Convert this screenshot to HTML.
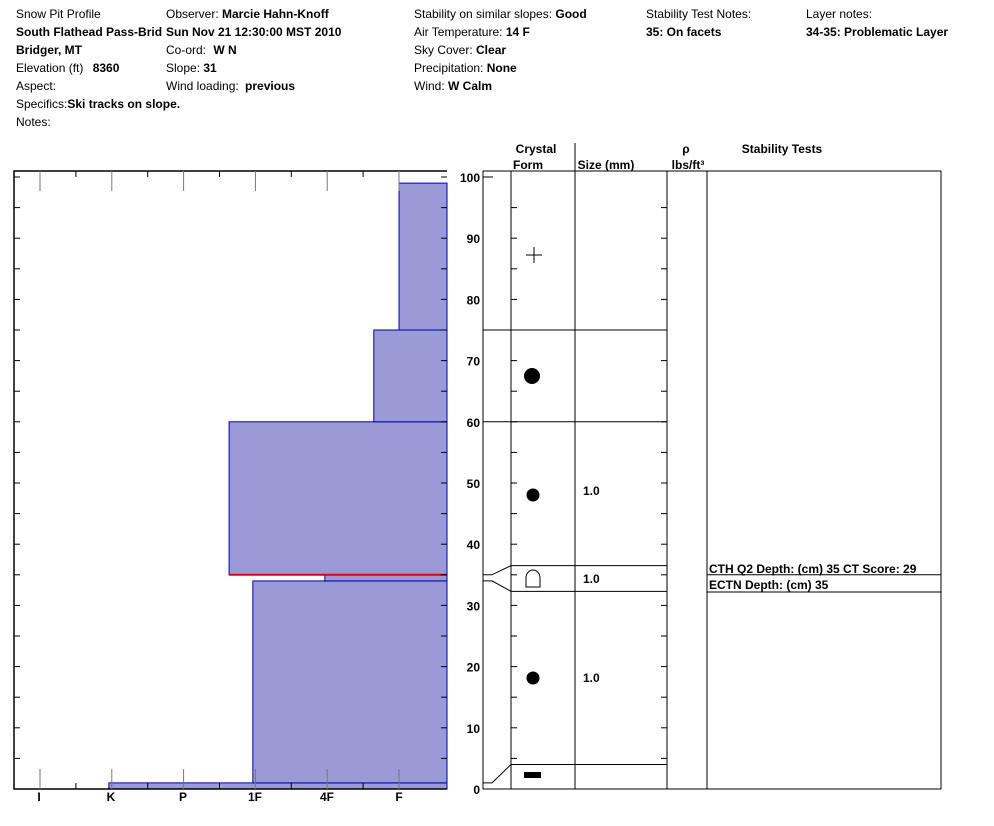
<!DOCTYPE html>
<html><head><meta charset="utf-8"><style>
body{margin:0;background:#fff;font-family:"Liberation Sans",Arial,sans-serif;}
svg{display:block}
</style></head><body>
<svg id="c" width="994" height="826" xmlns="http://www.w3.org/2000/svg" font-family="Liberation Sans, Arial, sans-serif" font-size="12">
<g fill="#000">
<text x="16" y="18">Snow Pit Profile</text>
<text x="16" y="36" font-weight="bold">South Flathead Pass-Brid</text>
<text x="16" y="54" font-weight="bold">Bridger, MT</text>
<text x="16" y="72">Elevation (ft) <tspan font-weight="bold" dx="6">8360</tspan></text>
<text x="16" y="90">Aspect:</text>
<text x="16" y="108">Specifics:<tspan font-weight="bold">Ski tracks on slope.</tspan></text>
<text x="16" y="126">Notes:</text>
<text x="166" y="18">Observer: <tspan font-weight="bold">Marcie Hahn-Knoff</tspan></text>
<text x="166" y="36" font-weight="bold">Sun Nov 21 12:30:00 MST 2010</text>
<text x="166" y="54">Co-ord: <tspan font-weight="bold" dx="4">W  N</tspan></text>
<text x="166" y="72">Slope: <tspan font-weight="bold">31</tspan></text>
<text x="166" y="90">Wind loading: <tspan font-weight="bold" dx="3">previous</tspan></text>
<text x="414" y="18">Stability on similar slopes: <tspan font-weight="bold">Good</tspan></text>
<text x="414" y="36">Air Temperature: <tspan font-weight="bold">14 F</tspan></text>
<text x="414" y="54">Sky Cover: <tspan font-weight="bold">Clear</tspan></text>
<text x="414" y="72">Precipitation: <tspan font-weight="bold">None</tspan></text>
<text x="414" y="90">Wind: <tspan font-weight="bold">W Calm</tspan></text>
<text x="646" y="18">Stability Test Notes:</text>
<text x="646" y="36" font-weight="bold">35: On facets</text>
<text x="806" y="18">Layer notes:</text>
<text x="806" y="36" font-weight="bold">34-35: Problematic Layer</text>
</g>
<g id="hard"></g>
<g id="right"></g>
</svg>
<script>
const hardLabels=["I","K","P","1F","4F","F"];
const layerTop=[1,34,35,60,75,99];
const layerBottom=[0,1,34,35,60,75];
const layerHardness=[5.03,3.03,2.03,3.36,1.35,1.0];
const depthTicks=[0,10,20,30,40,50,60,70,80,90,100];
const failureDepth=[35];
const NS="http://www.w3.org/2000/svg";
const X0=14,X1=447,YB=789,YT=171;
function y(d){return YB-d*6.12;}
function xh(h){return 399-(h-1)*72;}
function mk(p,t,a){const e=document.createElementNS(NS,t);for(const k in a)e.setAttribute(k,a[k]);p.appendChild(e);return e;}
const g=document.getElementById('hard');
for(let i=0;i<layerTop.length;i++){
 const r=mk(g,'rect',{x:xh(layerHardness[i]),y:y(layerTop[i]),width:X1-xh(layerHardness[i]),height:y(layerBottom[i])-y(layerTop[i]),fill:'#9a9ad6',stroke:'#0000b0','stroke-width':1});
 
 
}
failureDepth.forEach(d=>{
 const l=mk(g,'line',{x1:xh(layerHardness[3]),x2:X1,y1:y(d),y2:y(d),stroke:'#e00000','stroke-width':2});
 
 
});
mk(g,'path',{d:`M${X1},${YT}H${X0}V${YB}H${X1}`,fill:'none',stroke:'#000','stroke-width':1.5});
for(let i=0;i<11;i++){
 const x=40+i*35.9, major=i%2==0;
 mk(g,'line',{x1:x,x2:x,y1:YT,y2:YT+(major?20:6),stroke:major?'#777':'#000'});
 mk(g,'line',{x1:x,x2:x,y1:YB,y2:YB-(major?20:6),stroke:major?'#777':'#000'});
}
hardLabels.forEach((t,i)=>{const e=mk(g,'text',{x:xh(6-i),y:801,'text-anchor':'middle','font-weight':'bold','font-size':12});e.textContent=t;
 
 });
for(let d=5;d<=100;d+=5){mk(g,'line',{x1:X0,x2:X0+6,y1:y(d),y2:y(d),stroke:'#000'});mk(g,'line',{x1:X1,x2:X1-6,y1:y(d),y2:y(d),stroke:'#000'});}
depthTicks.forEach(d=>{const e=mk(g,'text',{x:480,y:y(d)+5,'text-anchor':'end','font-weight':'bold'});e.textContent=d;
 
 });
const R=document.getElementById('right');
const h=[[536,153,'Crystal'],[528,169,'Form'],[606,169,'Size (mm)'],[686,153,'ρ'],[688,169,'lbs/ft³'],[782,153,'Stability Tests']];
h.forEach(a=>{const e=mk(R,'text',{x:a[0],y:a[1],'text-anchor':'middle','font-weight':'bold'});e.textContent=a[2];});
mk(R,'line',{x1:575,x2:575,y1:143,y2:171,stroke:'#000'});
mk(R,'rect',{x:483,y:YT,width:458,height:YB-YT,fill:'none',stroke:'#000'});
[511,575,667,707].forEach(x=>mk(R,'line',{x1:x,x2:x,y1:YT,y2:YB,stroke:'#000'}));
mk(R,'line',{x1:483,x2:493,y1:y(100),y2:y(100),stroke:'#000'});
for(let d=5;d<100;d+=5){mk(R,'line',{x1:511,x2:517,y1:y(d),y2:y(d),stroke:'#000'});mk(R,'line',{x1:667,x2:661,y1:y(d),y2:y(d),stroke:'#000'});}
[[75,75],[60,60],[35,36.5],[34,32.3],[1,4]].forEach(p=>{
 mk(R,'polyline',{points:`483,${y(p[0])} 492,${y(p[0])} 511,${y(p[1])} 667,${y(p[1])}`,fill:'none',stroke:'#000'});
});
mk(R,'line',{x1:707,x2:941,y1:y(35),y2:y(35),stroke:'#000'});
mk(R,'line',{x1:707,x2:941,y1:592,y2:592,stroke:'#000'});
mk(R,'path',{d:`M526,255H542M534,247V263`,stroke:'#000'});
mk(R,'circle',{cx:532,cy:376,r:8});
mk(R,'circle',{cx:533,cy:495,r:6.5});
mk(R,'circle',{cx:533,cy:678,r:6.5});
mk(R,'rect',{x:524,y:772,width:17,height:6});
mk(R,'path',{d:'M526,587V578a7,8 0 0 1 14,0V587Z',fill:'none',stroke:'#000'});
[[495,'1.0'],[583,'1.0'],[682,'1.0']].forEach(a=>{const e=mk(R,'text',{x:583,y:a[0],'font-weight':'bold'});e.textContent=a[1];});
[[573,'CTH Q2 Depth: (cm) 35 CT Score: 29'],[589,'ECTN   Depth: (cm) 35']].forEach(a=>{const e=mk(R,'text',{x:709,y:a[0],'font-weight':'bold'});e.textContent=a[1];
 
 });
</script>
</body></html>
